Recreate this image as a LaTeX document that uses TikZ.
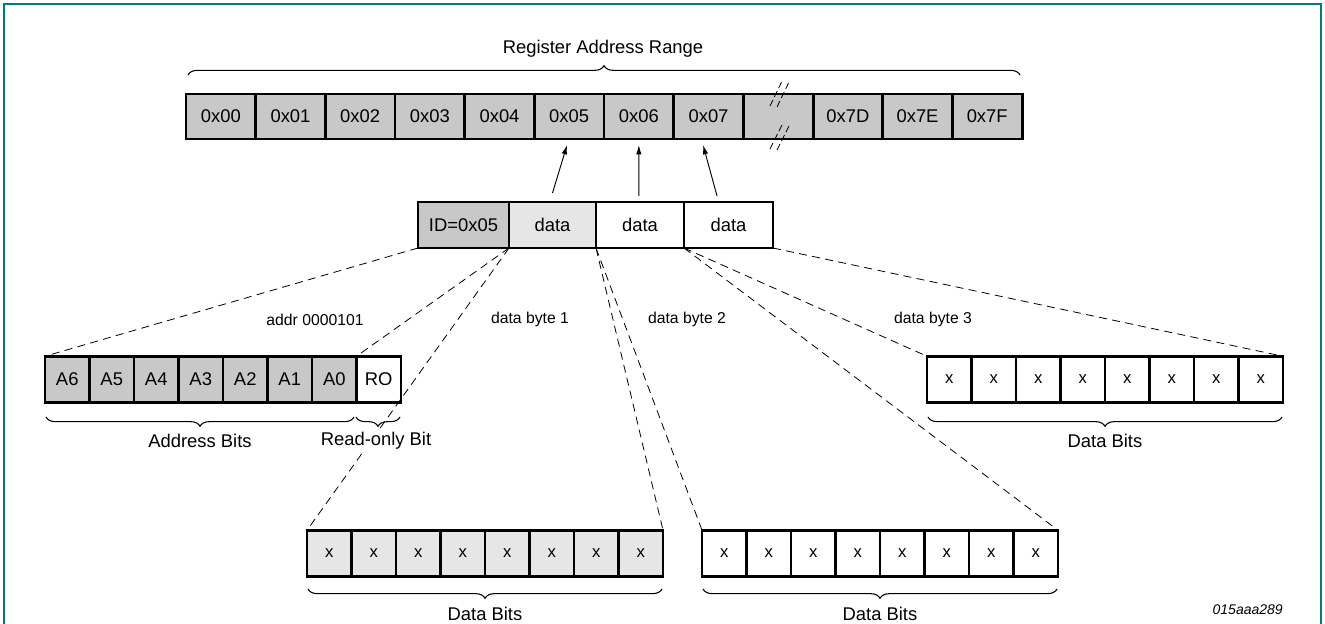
\documentclass[tikz,border=0pt]{standalone}
\usepackage{fontspec}
\setmainfont{Liberation Sans}
\usetikzlibrary{decorations.pathreplacing,arrows.meta}
\definecolor{cellgray}{RGB}{200,200,200}
\definecolor{cellpale}{RGB}{230,230,230}
\definecolor{frameteal}{RGB}{0,123,133}
\begin{document}
\begin{tikzpicture}[x=0.75pt,y=-0.75pt,
  cell/.style={draw=black, line width=2.2pt, inner sep=0pt, outer sep=0pt, anchor=center, font=\fontsize{13.8}{16}\selectfont},
  regcell/.style={cell, fill=cellgray, minimum width=52.25pt, minimum height=33.75pt},
  bitcell/.style={cell, minimum width=33.375pt, minimum height=34.875pt},
  xcell/.style={bitcell, font=\fontsize{12.5}{14}\selectfont},
  lbl/.style={inner sep=0pt, font=\fontsize{13.8}{16}\selectfont},
  small/.style={inner sep=0pt, font=\fontsize{11.8}{14}\selectfont},
  conn/.style={draw=black, line width=0.6pt, dash pattern=on 6pt off 4pt},
  arr/.style={draw=black, line width=0.7pt, -{Latex[length=7pt,width=4pt]}},
  bracestyle/.style={draw=black, line width=0.8pt, decorate, decoration={brace, amplitude=7pt}},
  breakmark/.style={draw=black, line width=0.6pt, dash pattern=on 5pt off 2.5pt}
]
\useasboundingbox (0,0) rectangle (1325,624);
% frame
\draw[frameteal, line width=1.6pt] (4,624) -- (4,4) -- (1321,4) -- (1321,624);

% register address range row
\foreach \t [count=\i from 0] in {0x00,0x01,0x02,0x03,0x04,0x05,0x06,0x07,{},0x7D,0x7E,0x7F}
  \node[regcell] (r\i) at ({186+69.67*(\i+0.5)},116.5) {\t};
% break marks in the gap cell
\draw[breakmark] (770,106) -- (782,81);
\draw[breakmark] (777,107) -- (789,82);
\draw[breakmark] (770,149) -- (782,125);
\draw[breakmark] (777,150) -- (789,126);

\draw[bracestyle] (188,75) -- (1020,75);
\node[lbl] (lrange) at (603,49) {Register Address Range};

% message row
\node[cell, fill=cellgray, minimum width=68.25pt, minimum height=34.5pt] (id) at (463.5,225) {ID=0x05};
\node[cell, fill=cellpale, minimum width=65.25pt, minimum height=34.5pt] (d1) at (552.5,225) {data};
\node[cell, fill=white, minimum width=66pt, minimum height=34.5pt] (d2) at (640,225) {data};
\node[cell, fill=white, minimum width=66.75pt, minimum height=34.5pt] (d3) at (728.5,225) {data};

% arrows to registers
\draw[arr] ([yshift=6.75pt]d1.north) -- ([xshift=-1.6pt,yshift=-4.5pt]r5.south);
\draw[arr] ([xshift=-0.9pt,yshift=4.5pt]d2.north) -- ([yshift=-4.5pt]r6.south);
\draw[arr] ([xshift=-8.6pt,yshift=4.5pt]d3.north) -- ([xshift=-4.1pt,yshift=-4.5pt]r7.south);

% address row
\foreach \t [count=\i from 0] in {A6,A5,A4,A3,A2,A1,A0}
  \node[bitcell, fill=cellgray] (a\i) at ({45+44.5*(\i+0.5)},379.5) {\t};
\node[bitcell, fill=white] (a7) at ({45+44.5*7.5},379.5) {RO};

% data bit rows
\foreach \i in {0,...,7} {
  \node[xcell, fill=cellpale] (p\i) at ({307+44.5*(\i+0.5)},553.5) {x};
  \node[xcell, fill=white] (q\i) at ({702+44.5*(\i+0.5)},553.5) {x};
  \node[xcell, fill=white] (s\i) at ({927+44.5*(\i+0.5)},379.5) {x};
}

% dashed expansion lines
\draw[conn] (id.south west) -- (a0.north west);
\draw[conn] (id.south east) -- (a6.north east);
\draw[conn] (id.south east) -- (p0.north west);
\draw[conn] (d1.south east) -- (p7.north east);
\draw[conn] (d1.south east) -- (q0.north west);
\draw[conn] (d2.south east) -- (q7.north east);
\draw[conn] (d2.south east) -- (s0.north west);
\draw[conn] (d3.south east) -- (s7.north east);

% labels on the expansions
\node[small] (laddr) at (315,320) {addr 0000101};
\node[small] (lb1) at (530,319) {data byte 1};
\node[small] (lb2) at (687,319) {data byte 2};
\node[small] (lb3) at (933,319) {data byte 3};

% braces under rows
\draw[bracestyle] (354,417) -- (46,417);
\draw[bracestyle] (400,417) -- (356,417);
\node[lbl] (laddrbits) at (200,441) {Address Bits};
\node[lbl, fill=white, inner sep=1.5pt] (lro) at (376,441) {Read-only Bit};

\draw[bracestyle] (1282,417) -- (928,417);
\node[lbl] (ldb3) at (1105,441) {Data Bits};

\draw[bracestyle] (662,589) -- (308,589);
\node[lbl] (ldb1) at (485,614) {Data Bits};
\draw[bracestyle] (1057,589) -- (703,589);
\node[lbl] (ldb2) at (880,614) {Data Bits};

\node[inner sep=0pt, anchor=east, font=\fontsize{10.5}{12}\selectfont\itshape] (fig) at (1283,610) {015aaa289};
\end{tikzpicture}
\end{document}
